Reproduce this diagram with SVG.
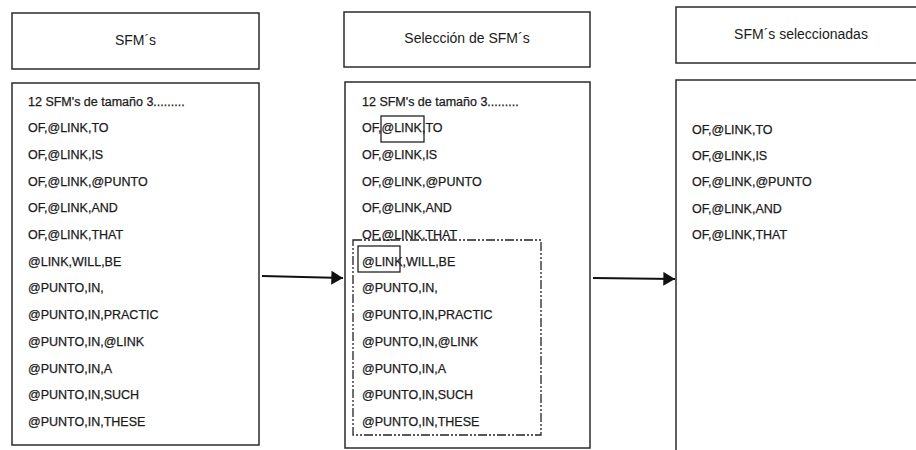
<svg xmlns="http://www.w3.org/2000/svg" width="916" height="450" viewBox="0 0 916 450">
  <defs>
    <style>
      .box { fill: #fff; stroke: #2b2b2b; stroke-width: 1.5; }
      .hl { fill: none; stroke: #222; stroke-width: 1.3; }
      .group { fill: none; stroke: #222; stroke-width: 1.3; stroke-dasharray: 9 2 2 2 2 2; }
      .title { font-family: "Liberation Sans", Arial, sans-serif; font-size: 14px; fill: #1a1a1a; text-anchor: middle; }
      .item { font-family: "Liberation Sans", Arial, sans-serif; font-size: 12.5px; fill: #1a1a1a; stroke: #1a1a1a; stroke-width: 0.25; }
      .edge { stroke: #111; stroke-width: 2; fill: none; }
    </style>
    <marker id="arrow" viewBox="0 0 10 12" refX="10" refY="6" markerWidth="6" markerHeight="7" markerUnits="strokeWidth" orient="auto">
      <path d="M0,0 L10,6 L0,12 Z" fill="#111"/>
    </marker>
  </defs>
  <rect width="916" height="450" fill="#fff"/>

  <!-- column 1: all candidate SFMs -->
  <g id="sfm-header">
    <rect class="box" x="12" y="13" width="247" height="56"/>
    <text class="title" x="135.5" y="45">SFM´s</text>
  </g>
  <g id="sfm-list">
    <rect class="box" x="12" y="83" width="247" height="362"/>
    <text class="item" x="28" y="105.5">12 SFM's de tamaño 3.........</text>
    <text class="item" x="28" y="132.2">OF,@LINK,TO</text>
    <text class="item" x="28" y="158.9">OF,@LINK,IS</text>
    <text class="item" x="28" y="185.6">OF,@LINK,@PUNTO</text>
    <text class="item" x="28" y="212.3">OF,@LINK,AND</text>
    <text class="item" x="28" y="239">OF,@LINK,THAT</text>
    <text class="item" x="28" y="265.7">@LINK,WILL,BE</text>
    <text class="item" x="28" y="292.4">@PUNTO,IN,</text>
    <text class="item" x="28" y="319.1">@PUNTO,IN,PRACTIC</text>
    <text class="item" x="28" y="345.8">@PUNTO,IN,@LINK</text>
    <text class="item" x="28" y="372.5">@PUNTO,IN,A</text>
    <text class="item" x="28" y="399.2">@PUNTO,IN,SUCH</text>
    <text class="item" x="28" y="425.9">@PUNTO,IN,THESE</text>
  </g>

  <!-- column 2: selection -->
  <g id="selection-header">
    <rect class="box" x="344" y="12" width="246" height="55"/>
    <text class="title" x="467" y="43">Selección de SFM´s</text>
  </g>
  <g id="selection-list">
    <rect class="box" x="345" y="82" width="245" height="366"/>
    <text class="item" x="362" y="105.5">12 SFM's de tamaño 3.........</text>
    <text class="item" x="362" y="132.2">OF,@LINK,TO</text>
    <text class="item" x="362" y="158.9">OF,@LINK,IS</text>
    <text class="item" x="362" y="185.6">OF,@LINK,@PUNTO</text>
    <text class="item" x="362" y="212.3">OF,@LINK,AND</text>
    <text class="item" x="362" y="239">OF,@LINK,THAT</text>
    <text class="item" x="362" y="265.7">@LINK,WILL,BE</text>
    <text class="item" x="362" y="292.4">@PUNTO,IN,</text>
    <text class="item" x="362" y="319.1">@PUNTO,IN,PRACTIC</text>
    <text class="item" x="362" y="345.8">@PUNTO,IN,@LINK</text>
    <text class="item" x="362" y="372.5">@PUNTO,IN,A</text>
    <text class="item" x="362" y="399.2">@PUNTO,IN,SUCH</text>
    <text class="item" x="362" y="425.9">@PUNTO,IN,THESE</text>
    <!-- highlighted link token and discarded group -->
    <rect class="hl" x="381" y="116" width="43" height="26"/>
    <rect class="hl" x="358" y="246" width="42" height="26"/>
    <rect class="group" x="353" y="240" width="188" height="195"/>
  </g>

  <!-- column 3: selected SFMs -->
  <g id="selected-header">
    <rect class="box" x="676" y="7" width="250" height="56"/>
    <text class="title" x="801" y="39">SFM´s seleccionadas</text>
  </g>
  <g id="selected-list">
    <rect class="box" x="676" y="80" width="250" height="385"/>
    <text class="item" x="692" y="133.5">OF,@LINK,TO</text>
    <text class="item" x="692" y="159.9">OF,@LINK,IS</text>
    <text class="item" x="692" y="186.3">OF,@LINK,@PUNTO</text>
    <text class="item" x="692" y="212.7">OF,@LINK,AND</text>
    <text class="item" x="692" y="239.1">OF,@LINK,THAT</text>
  </g>

  <g id="connectors">
    <line class="edge" x1="262" y1="276" x2="343" y2="278" marker-end="url(#arrow)"/>
    <line class="edge" x1="593" y1="278" x2="675" y2="279" marker-end="url(#arrow)"/>
  </g>
</svg>
